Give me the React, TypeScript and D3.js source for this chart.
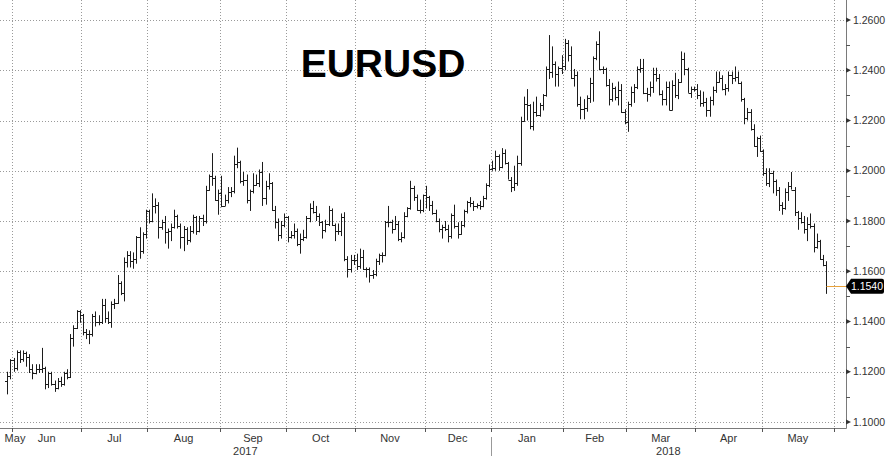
import * as d3 from 'd3';
import { useEffect, useRef } from 'react';

// one row per trading day: [open, high, low, close]
type Bar = [number, number, number, number];

const may17: Bar[] = [
  [1.1165, 1.12, 1.111, 1.1185],
  [1.1185, 1.125, 1.117, 1.1245],
];
const jun17: Bar[] = [
  [1.1245, 1.1255, 1.12, 1.1215],
  [1.1215, 1.1285, 1.1205, 1.128],
  [1.128, 1.1285, 1.1235, 1.125],
  [1.125, 1.1285, 1.124, 1.1275],
  [1.1275, 1.128, 1.122, 1.126],
  [1.126, 1.127, 1.1195, 1.121],
  [1.121, 1.123, 1.117, 1.1195],
  [1.1195, 1.123, 1.119, 1.121],
  [1.121, 1.123, 1.1195, 1.121],
  [1.121, 1.1295, 1.1195, 1.1215],
  [1.1215, 1.122, 1.113, 1.115],
  [1.115, 1.12, 1.1135, 1.1195],
  [1.1195, 1.12, 1.1145, 1.115],
  [1.115, 1.1165, 1.112, 1.1135],
  [1.1135, 1.1175, 1.113, 1.1165],
  [1.1165, 1.118, 1.114, 1.115],
  [1.115, 1.12, 1.1145, 1.1195],
  [1.1195, 1.121, 1.117, 1.118],
  [1.118, 1.135, 1.1175, 1.1335],
  [1.1335, 1.1385, 1.13, 1.1375],
  [1.1375, 1.1445, 1.137, 1.144],
  [1.144, 1.1445, 1.1395, 1.1425],
];
const jul17: Bar[] = [
  [1.1425, 1.143, 1.1345, 1.136],
  [1.136, 1.137, 1.133, 1.135],
  [1.135, 1.1365, 1.131, 1.135],
  [1.135, 1.143, 1.134, 1.142],
  [1.142, 1.144, 1.138, 1.14],
  [1.14, 1.1425, 1.1385, 1.14],
  [1.14, 1.149, 1.139, 1.1465],
  [1.1465, 1.149, 1.1395, 1.1415],
  [1.1415, 1.144, 1.139, 1.14],
  [1.14, 1.148, 1.1375, 1.147],
  [1.147, 1.149, 1.145, 1.1475],
  [1.1475, 1.1585, 1.147, 1.1555],
  [1.1555, 1.156, 1.1505, 1.1515],
  [1.1515, 1.1655, 1.148, 1.1635],
  [1.1635, 1.168, 1.1615, 1.1665],
  [1.1665, 1.168, 1.1615, 1.164],
  [1.164, 1.1675, 1.161, 1.165],
  [1.165, 1.174, 1.163, 1.1735],
  [1.1735, 1.1775, 1.165, 1.168],
  [1.168, 1.1755, 1.167, 1.175],
  [1.175, 1.1845, 1.173, 1.184],
];
const aug17: Bar[] = [
  [1.184, 1.1845, 1.179, 1.18],
  [1.18, 1.191, 1.1795, 1.186],
  [1.186, 1.189, 1.183, 1.1865],
  [1.1865, 1.1875, 1.173, 1.1775],
  [1.1775, 1.1805, 1.1765, 1.1795],
  [1.1795, 1.182, 1.171, 1.1755],
  [1.1755, 1.177, 1.169, 1.176],
  [1.176, 1.179, 1.172, 1.1775],
  [1.1775, 1.1845, 1.177, 1.182],
  [1.182, 1.1825, 1.177, 1.178],
  [1.178, 1.179, 1.169, 1.1735],
  [1.1735, 1.178, 1.168, 1.177],
  [1.177, 1.1775, 1.1705, 1.1725],
  [1.1725, 1.178, 1.1715, 1.176],
  [1.176, 1.1825, 1.175, 1.1815],
  [1.1815, 1.182, 1.1745, 1.176],
  [1.176, 1.182, 1.1755, 1.181],
  [1.181, 1.1825, 1.178, 1.18],
  [1.18, 1.194, 1.179, 1.1925],
  [1.1925, 1.1985, 1.192, 1.198],
  [1.198, 1.207, 1.194, 1.197],
  [1.197, 1.198, 1.188, 1.1885],
  [1.1885, 1.1925, 1.1825, 1.191],
];
const sep17: Bar[] = [
  [1.191, 1.198, 1.1855, 1.186],
  [1.186, 1.1905, 1.186, 1.1885],
  [1.1885, 1.1935, 1.187, 1.1915],
  [1.1915, 1.1935, 1.1895, 1.192],
  [1.192, 1.206, 1.191, 1.2025],
  [1.2025, 1.2092, 1.201, 1.2035],
  [1.2035, 1.204, 1.195, 1.196],
  [1.196, 1.1995, 1.194, 1.1965],
  [1.1965, 1.1985, 1.187, 1.1885],
  [1.1885, 1.1925, 1.184, 1.192],
  [1.192, 1.199, 1.191, 1.1945],
  [1.1945, 1.1985, 1.194, 1.195],
  [1.195, 1.2005, 1.1935, 1.1995],
  [1.1995, 1.2035, 1.186, 1.189],
  [1.189, 1.196, 1.1865, 1.194],
  [1.194, 1.199, 1.1925, 1.195],
  [1.195, 1.1955, 1.184, 1.1845],
  [1.1845, 1.186, 1.177, 1.1795],
  [1.1795, 1.181, 1.172, 1.1745],
  [1.1745, 1.18, 1.173, 1.1785],
  [1.1785, 1.183, 1.1775, 1.1815],
];
const oct17: Bar[] = [
  [1.1815, 1.182, 1.1715, 1.1735],
  [1.1735, 1.176, 1.173, 1.1745],
  [1.1745, 1.179, 1.173, 1.176],
  [1.176, 1.177, 1.17, 1.171],
  [1.171, 1.175, 1.167, 1.173],
  [1.173, 1.1765, 1.172, 1.1735],
  [1.1735, 1.182, 1.173, 1.181],
  [1.181, 1.187, 1.1795, 1.185],
  [1.185, 1.188, 1.183, 1.1835],
  [1.1835, 1.186, 1.18, 1.182],
  [1.182, 1.183, 1.178, 1.1795],
  [1.1795, 1.18, 1.173, 1.1765],
  [1.1765, 1.1805, 1.1755, 1.179],
  [1.179, 1.186, 1.178, 1.1845],
  [1.1845, 1.185, 1.178, 1.1785],
  [1.1785, 1.179, 1.172, 1.176],
  [1.176, 1.179, 1.1745, 1.176],
  [1.176, 1.183, 1.174, 1.1815],
  [1.1815, 1.1835, 1.164, 1.165],
  [1.165, 1.166, 1.1575, 1.161],
  [1.161, 1.1665, 1.1595, 1.1645],
  [1.1645, 1.1665, 1.1625, 1.1645],
];
const nov17: Bar[] = [
  [1.1645, 1.167, 1.1605, 1.162],
  [1.162, 1.169, 1.161, 1.1655],
  [1.1655, 1.1685, 1.1605, 1.161],
  [1.161, 1.1615, 1.1575, 1.161],
  [1.161, 1.1615, 1.1555, 1.1585],
  [1.1585, 1.1605, 1.157, 1.159],
  [1.159, 1.165, 1.158, 1.164],
  [1.164, 1.167, 1.1625, 1.1665],
  [1.1665, 1.1675, 1.1635, 1.1665],
  [1.1665, 1.18, 1.166, 1.1795],
  [1.1795, 1.186, 1.1775, 1.1795],
  [1.1795, 1.1805, 1.175, 1.177],
  [1.177, 1.182, 1.1765, 1.179],
  [1.179, 1.18, 1.172, 1.173],
  [1.173, 1.1755, 1.1715, 1.1735],
  [1.1735, 1.1835, 1.173, 1.182],
  [1.182, 1.1855, 1.1815, 1.185],
  [1.185, 1.196, 1.1845, 1.193],
  [1.193, 1.194, 1.188, 1.1895],
  [1.1895, 1.1905, 1.184, 1.1845],
  [1.1845, 1.1885, 1.183, 1.1845],
  [1.1845, 1.1905, 1.1835, 1.1905],
];
const dec17: Bar[] = [
  [1.1905, 1.194, 1.185, 1.1895],
  [1.1895, 1.19, 1.184, 1.1865],
  [1.1865, 1.188, 1.1825, 1.183],
  [1.183, 1.1845, 1.1795, 1.18],
  [1.18, 1.181, 1.1755, 1.177],
  [1.177, 1.1785, 1.173, 1.1775],
  [1.1775, 1.18, 1.176, 1.177],
  [1.177, 1.1785, 1.1715, 1.174],
  [1.174, 1.183, 1.173, 1.1825],
  [1.1825, 1.1865, 1.177, 1.178],
  [1.178, 1.1795, 1.173, 1.175],
  [1.175, 1.18, 1.1745, 1.1785],
  [1.1785, 1.1845, 1.1775, 1.184],
  [1.184, 1.188, 1.183, 1.1875],
  [1.1875, 1.1895, 1.1855, 1.187],
  [1.187, 1.188, 1.184, 1.186],
  [1.186, 1.187, 1.185, 1.1865],
  [1.1865, 1.188, 1.1845, 1.186],
  [1.186, 1.19, 1.1855, 1.189],
  [1.189, 1.195, 1.1885, 1.1945],
  [1.1945, 1.2025, 1.1935, 1.2005],
];
const jan18: Bar[] = [
  [1.2005, 1.204, 1.2, 1.201],
  [1.201, 1.208, 1.2, 1.206],
  [1.206, 1.2065, 1.2, 1.2015],
  [1.2015, 1.209, 1.201, 1.207],
  [1.207, 1.2085, 1.2025, 1.203],
  [1.203, 1.2035, 1.1965, 1.1965],
  [1.1965, 1.1975, 1.1915, 1.1935],
  [1.1935, 1.202, 1.192, 1.195],
  [1.195, 1.206, 1.194, 1.203],
  [1.203, 1.2215, 1.202, 1.22],
  [1.22, 1.2295, 1.2195, 1.2265],
  [1.2265, 1.2325, 1.22, 1.226],
  [1.226, 1.2265, 1.2165, 1.218],
  [1.218, 1.2275, 1.216, 1.2235],
  [1.2235, 1.2295, 1.2215, 1.222],
  [1.222, 1.227, 1.2215, 1.226],
  [1.226, 1.2305, 1.224, 1.23],
  [1.23, 1.2415, 1.2295, 1.2405],
  [1.2405, 1.254, 1.2365, 1.2395],
  [1.2395, 1.2495, 1.237, 1.2425],
  [1.2425, 1.2435, 1.2335, 1.2385],
  [1.2385, 1.2415, 1.2335, 1.241],
  [1.241, 1.246, 1.2385, 1.2415],
];
const feb18: Bar[] = [
  [1.2415, 1.2525, 1.24, 1.251],
  [1.251, 1.252, 1.2435, 1.246],
  [1.246, 1.2495, 1.2365, 1.237],
  [1.237, 1.2405, 1.2335, 1.238],
  [1.238, 1.2395, 1.2255, 1.2265],
  [1.2265, 1.2295, 1.2205, 1.2245],
  [1.2245, 1.2285, 1.2205, 1.225],
  [1.225, 1.23, 1.2235, 1.229],
  [1.229, 1.237, 1.227, 1.235],
  [1.235, 1.2455, 1.2275, 1.245],
  [1.245, 1.2515, 1.244, 1.2505],
  [1.2505, 1.2555, 1.24, 1.2405],
  [1.2405, 1.2415, 1.2385, 1.2405],
  [1.2405, 1.241, 1.2335, 1.234],
  [1.234, 1.2365, 1.226, 1.2285],
  [1.2285, 1.235, 1.2275, 1.233],
  [1.233, 1.2335, 1.228, 1.2295],
  [1.2295, 1.2355, 1.226, 1.232],
  [1.232, 1.2345, 1.223, 1.2235],
  [1.2235, 1.2245, 1.2185, 1.2195],
];
const mar18: Bar[] = [
  [1.2195, 1.2275, 1.2155, 1.2265],
  [1.2265, 1.2335, 1.2255, 1.2315],
  [1.2315, 1.2345, 1.227, 1.2335],
  [1.2335, 1.2415, 1.2325, 1.2405],
  [1.2405, 1.2445, 1.239, 1.241],
  [1.241, 1.2445, 1.2305, 1.231],
  [1.231, 1.233, 1.2275, 1.2305],
  [1.2305, 1.2355, 1.2295, 1.2335],
  [1.2335, 1.241, 1.231, 1.2385],
  [1.2385, 1.241, 1.2355, 1.237],
  [1.237, 1.2385, 1.23, 1.2305],
  [1.2305, 1.232, 1.226, 1.2285],
  [1.2285, 1.2355, 1.226, 1.2335],
  [1.2335, 1.2355, 1.224, 1.224],
  [1.224, 1.236, 1.224, 1.234],
  [1.234, 1.239, 1.229, 1.23],
  [1.23, 1.2365, 1.2285, 1.2355],
  [1.2355, 1.2475, 1.235, 1.2445],
  [1.2445, 1.247, 1.238, 1.2405],
  [1.2405, 1.241, 1.231, 1.231],
  [1.231, 1.2335, 1.229, 1.2325],
  [1.2325, 1.2335, 1.2315, 1.2325],
];
const apr18: Bar[] = [
  [1.2325, 1.2345, 1.2285, 1.23],
  [1.23, 1.232, 1.2255, 1.227],
  [1.227, 1.2315, 1.2255, 1.2275],
  [1.2275, 1.229, 1.2215, 1.224],
  [1.224, 1.2295, 1.2215, 1.228],
  [1.228, 1.2335, 1.226, 1.232],
  [1.232, 1.2395, 1.231, 1.2355],
  [1.2355, 1.2395, 1.235, 1.237],
  [1.237, 1.238, 1.232, 1.2325],
  [1.2325, 1.2345, 1.23, 1.233],
  [1.233, 1.2395, 1.2315, 1.238],
  [1.238, 1.2395, 1.2345, 1.237],
  [1.237, 1.2415, 1.2355, 1.2375],
  [1.2375, 1.2395, 1.2345, 1.235],
  [1.235, 1.2355, 1.2275, 1.2285],
  [1.2285, 1.229, 1.2185, 1.221],
  [1.221, 1.225, 1.22, 1.2235],
  [1.2235, 1.2245, 1.216, 1.2165],
  [1.2165, 1.2185, 1.2095, 1.21],
  [1.21, 1.2135, 1.2055, 1.213],
  [1.213, 1.214, 1.2075, 1.208],
];
const may18: Bar[] = [
  [1.208, 1.2085, 1.198, 1.199],
  [1.199, 1.201, 1.194, 1.195],
  [1.195, 1.201, 1.1935, 1.199],
  [1.199, 1.2, 1.191, 1.196],
  [1.196, 1.1965, 1.19, 1.1925],
  [1.1925, 1.1935, 1.184, 1.1865],
  [1.1865, 1.1875, 1.1825, 1.185],
  [1.185, 1.193, 1.1845, 1.1915],
  [1.1915, 1.1955, 1.188, 1.194],
  [1.194, 1.1995, 1.1925, 1.1925],
  [1.1925, 1.1935, 1.182, 1.1835],
  [1.1835, 1.184, 1.1765, 1.181],
  [1.181, 1.1835, 1.179, 1.1795],
  [1.1795, 1.182, 1.175, 1.177],
  [1.177, 1.1815, 1.172, 1.179],
  [1.179, 1.183, 1.177, 1.178],
  [1.178, 1.179, 1.1675, 1.1695],
  [1.1695, 1.175, 1.169, 1.172],
  [1.172, 1.1725, 1.1645, 1.165],
  [1.165, 1.1665, 1.162, 1.1625],
  [1.1625, 1.164, 1.151, 1.154],
];

const bars: Bar[] = [
  ...may17, ...jun17, ...jul17, ...aug17, ...sep17, ...oct17, ...nov17,
  ...dec17, ...jan18, ...feb18, ...mar18, ...apr18, ...may18,
];

const monthLabels = ['May', 'Jun', 'Jul', 'Aug', 'Sep', 'Oct', 'Nov', 'Dec', 'Jan', 'Feb', 'Mar', 'Apr', 'May'];
const yearLabels = ['2017', '2018'];
const priceTicks = [1.1, 1.12, 1.14, 1.16, 1.18, 1.2, 1.22, 1.24, 1.26];
const minorTicks = [1.11, 1.13, 1.15, 1.17, 1.19, 1.21, 1.23, 1.25];
const lastPrice = 1.154;
const title = 'EURUSD';

const firstDay = new Date(2017, 4, 30);
const axisEnd = new Date(2018, 5, 2);

const font = "'Liberation Sans', Arial, sans-serif";

function EurUsdChart() {
  const svgElement = useRef<SVGSVGElement | null>(null);

  useEffect(() => {
    if (!svgElement.current) return;
    const svg = d3.select(svgElement.current);
    svg.selectAll('*').remove();

    const plotRight = 846;
    const plotBottom = 428;

    // weekday calendar (fx trades every weekday)
    const days = d3.timeDay
      .range(firstDay, axisEnd)
      .filter((d) => d.getDay() !== 0 && d.getDay() !== 6);
    const indexOf = (m: Date) => days.findIndex((d) => d >= m);
    const monthStarts = d3.timeMonth.range(new Date(2017, 5, 1), axisEnd);
    const monthIdx = monthStarts.map(indexOf);

    const x = d3
      .scaleLinear()
      .domain([monthIdx[0], monthIdx[monthIdx.length - 1]])
      .range([12, 834]);
    const y = d3.scaleLinear().domain([1.1, 1.26]).range([422, 20]);

    const snap = (v: number) => Math.round(v) + 0.5;

    svg.append('rect').attr('width', 890).attr('height', 457).attr('fill', '#fff');

    // Grid
    svg
      .append('g')
      .selectAll('line')
      .data(priceTicks)
      .join('line')
      .attr('x1', 0)
      .attr('x2', plotRight)
      .attr('y1', (d) => snap(y(d)))
      .attr('y2', (d) => snap(y(d)))
      .attr('stroke', '#9a9a9a')
      .attr('stroke-dasharray', '1 2');

    svg
      .append('g')
      .selectAll('line')
      .data(monthIdx)
      .join('line')
      .attr('x1', (d) => snap(x(d)))
      .attr('x2', (d) => snap(x(d)))
      .attr('y1', 0)
      .attr('y2', plotBottom)
      .attr('stroke', '#9a9a9a')
      .attr('stroke-dasharray', '1 2');

    // Axes lines
    svg
      .append('line')
      .attr('x1', 0)
      .attr('x2', plotRight + 0.5)
      .attr('y1', plotBottom + 0.5)
      .attr('y2', plotBottom + 0.5)
      .attr('stroke', '#7a7a7a');
    svg
      .append('line')
      .attr('x1', plotRight + 0.5)
      .attr('x2', plotRight + 0.5)
      .attr('y1', 0)
      .attr('y2', plotBottom + 0.5)
      .attr('stroke', '#7a7a7a');

    // Month ticks & labels
    svg
      .append('g')
      .selectAll('line')
      .data(monthIdx)
      .join('line')
      .attr('x1', (d) => snap(x(d)))
      .attr('x2', (d) => snap(x(d)))
      .attr('y1', plotBottom)
      .attr('y2', plotBottom + 4)
      .attr('stroke', '#555');

    const edges = [0, ...monthIdx.map((d) => x(d))];
    svg
      .append('g')
      .selectAll('text')
      .data(monthLabels)
      .join('text')
      .attr('x', (_, i) => Math.max((edges[i] + edges[i + 1]) / 2, 15))
      .attr('y', 442)
      .attr('text-anchor', 'middle')
      .attr('font-family', font)
      .attr('font-size', 11)
      .attr('fill', '#333')
      .text((d) => d);

    const yearSplit = x(indexOf(new Date(2018, 0, 1)));
    const yearEdges = [0, yearSplit, plotRight];
    svg
      .append('g')
      .selectAll('text')
      .data(yearLabels)
      .join('text')
      .attr('x', (_, i) => (yearEdges[i] + yearEdges[i + 1]) / 2)
      .attr('y', 455)
      .attr('text-anchor', 'middle')
      .attr('font-family', font)
      .attr('font-size', 11)
      .attr('fill', '#333')
      .text((d) => d);
    svg
      .append('line')
      .attr('x1', snap(yearSplit))
      .attr('x2', snap(yearSplit))
      .attr('y1', 437)
      .attr('y2', 456)
      .attr('stroke', '#999');

    // Price axis
    const yAxis = svg.append('g');
    yAxis
      .selectAll('path')
      .data(priceTicks)
      .join('path')
      .attr('d', (d) => {
        const yy = y(d);
        return `M${plotRight},${yy - 2.5}L${plotRight + 5},${yy}L${plotRight},${yy + 2.5}Z`;
      })
      .attr('fill', '#333');
    yAxis
      .selectAll('line')
      .data(minorTicks)
      .join('line')
      .attr('x1', plotRight)
      .attr('x2', plotRight + 4)
      .attr('y1', (d) => snap(y(d)))
      .attr('y2', (d) => snap(y(d)))
      .attr('stroke', '#555');
    yAxis
      .selectAll('text')
      .data(priceTicks)
      .join('text')
      .attr('x', 853)
      .attr('y', (d) => y(d))
      .attr('dy', '0.35em')
      .attr('font-family', font)
      .attr('font-size', 10.5)
      .attr('fill', '#333')
      .text((d) => d3.format('.4f')(d));

    // OHLC bars
    const barG = svg.append('g').attr('stroke', '#1c1c1c').attr('stroke-width', 1);
    const cx = (i: number) => snap(x(i + 0.5));
    barG
      .selectAll('.hl')
      .data(bars)
      .join('line')
      .attr('class', 'hl')
      .attr('x1', (_, i) => cx(i))
      .attr('x2', (_, i) => cx(i))
      .attr('y1', (d) => y(d[1]))
      .attr('y2', (d) => y(d[2]));
    barG
      .selectAll('.op')
      .data(bars)
      .join('line')
      .attr('class', 'op')
      .attr('x1', (_, i) => cx(i) - 2.5)
      .attr('x2', (_, i) => cx(i))
      .attr('y1', (d) => snap(y(d[0])))
      .attr('y2', (d) => snap(y(d[0])));
    barG
      .selectAll('.cl')
      .data(bars)
      .join('line')
      .attr('class', 'cl')
      .attr('x1', (_, i) => cx(i))
      .attr('x2', (_, i) => cx(i) + 2.5)
      .attr('y1', (d) => snap(y(d[3])))
      .attr('y2', (d) => snap(y(d[3])));

    // Last price marker
    const ly = y(lastPrice);
    svg
      .append('line')
      .attr('x1', cx(bars.length - 1))
      .attr('x2', plotRight)
      .attr('y1', snap(ly))
      .attr('y2', snap(ly))
      .attr('stroke', '#e9a23b');
    svg
      .append('path')
      .attr(
        'd',
        `M${plotRight},${ly}L${plotRight + 5},${ly - 7.5}H882Q884,${ly - 7.5} 884,${ly - 5.5}V${ly + 5.5}Q884,${ly + 7.5} 882,${ly + 7.5}H${plotRight + 5}Z`,
      )
      .attr('fill', '#000');
    svg
      .append('text')
      .attr('x', 867)
      .attr('y', ly)
      .attr('dy', '0.35em')
      .attr('text-anchor', 'middle')
      .attr('font-family', font)
      .attr('font-size', 10.5)
      .attr('fill', '#fff')
      .text(d3.format('.4f')(lastPrice));

    // Title
    svg
      .append('text')
      .attr('x', 383)
      .attr('y', 77)
      .attr('text-anchor', 'middle')
      .attr('font-family', font)
      .attr('font-weight', 700)
      .attr('font-size', 39)
      .attr('fill', '#000')
      .text(title);
  }, []);

  return (
    <svg
      ref={svgElement}
      width={890}
      height={457}
      style={{ position: 'absolute', left: 0, top: 0, display: 'block' }}
    />
  );
}

export default function App() {
  return <EurUsdChart />;
}
